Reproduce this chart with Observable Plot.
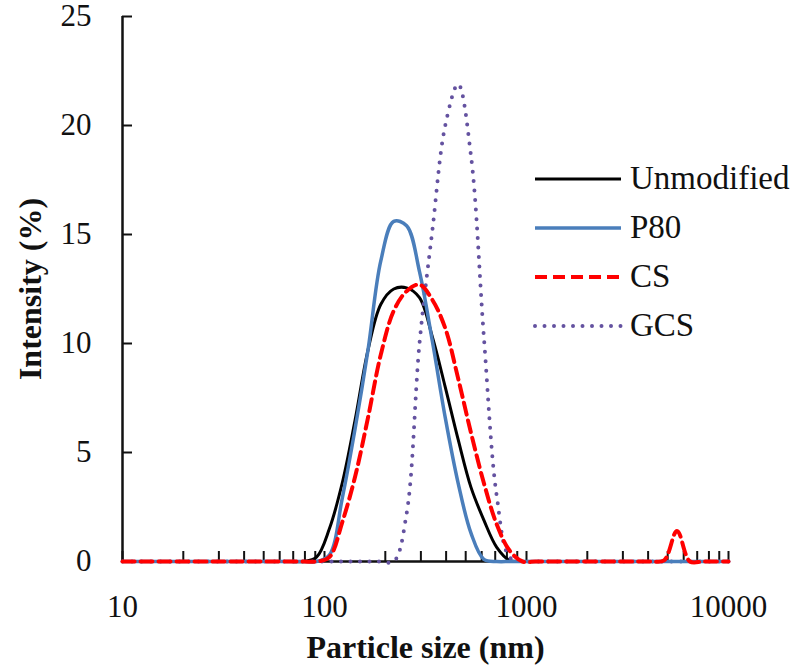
<!DOCTYPE html>
<html><head><meta charset="utf-8">
<script src="https://cdn.jsdelivr.net/npm/d3@7"></script>
<script src="https://cdn.jsdelivr.net/npm/@observablehq/plot@0.6"></script>
<style>
html,body{margin:0;padding:0;background:#fff;}
#wrap{position:relative;width:800px;height:672px;}
#legend{position:absolute;left:533px;top:154px;font-family:'Liberation Serif','Times New Roman',Times,'DejaVu Serif',serif;font-size:33px;color:#111;}
.row{display:flex;align-items:center;height:49px;}
.row svg{width:90px;height:20px;margin-right:7px;display:block;}
svg text{font-family:'Liberation Serif','Times New Roman',Times,'DejaVu Serif',serif;}
</style></head>
<body><div id="wrap"></div>
<script>
// Particle size bins (nm)
const sizes = [10, 11.7, 13.5, 15.7, 18.2, 21.0, 24.4, 28.2, 32.7, 37.8, 43.8, 50.7, 58.8, 68.1, 78.8, 91.3,
  105.7, 122.4, 141.8, 164.2, 190.1, 220.2, 255.0, 295.3, 342.0, 396.1, 458.7, 531.2, 615.1, 712.4, 825.0, 955.4,
  1106, 1281, 1484, 1718, 1990, 2305, 2669, 3091, 3580, 4145, 4801, 5560, 6439, 7456, 8635, 10000];

// Intensity (%) per bin
const unmodified = [0,0,0,0,0,0,0,0,0,0,0,0,0,0,0,0.2,
  1.5,3.6,6.5,9.7,11.8,12.5,12.55,12.1,10.3,8.0,5.6,3.4,1.9,0.65,0.05,0,
  0,0,0,0,0,0,0,0,0,0,0,0,0,0,0,0];
const p80 = [0,0,0,0,0,0,0,0,0,0,0,0,0,0,0,0,
  0.3,2.9,6.1,9.7,13.8,15.6,15.4,13.3,10.1,6.6,3.6,1.3,0.1,0,0,0,
  0,0,0,0,0,0,0,0,0,0,0,0,0,0,0,0];
const cs = [0,0,0,0,0,0,0,0,0,0,0,0,0,0,0,0,
  0.2,1.8,3.9,6.6,9.5,11.5,12.4,12.7,12.0,10.7,8.4,5.9,3.6,1.7,0.5,0,
  0,0,0,0,0,0,0,0,0,0,0.05,1.4,0,0,0,0];
const gcs = [0,0,0,0,0,0,0,0,0,0,0,0,0,0,0,0,
  0,0,0,0,0,0,2.2,10.0,15.2,20.0,21.9,18.6,10.3,3.0,0.2,0,
  0,0,0,0,0,0,0,0,0,0,0,0,0,0,0,0];

const seriesNames = ["Unmodified", "P80", "CS", "GCS"];
const xMajorTicks = [10, 100, 1000, 10000];
const xAllTicks = [10,20,30,40,50,60,70,80,90,100,200,300,400,500,600,700,800,900,1000,2000,3000,4000,5000,6000,7000,8000,9000,10000];
const yTicks = [0, 5, 10, 15, 20, 25];

const styles = {
  "Unmodified": {stroke: "#000000", strokeWidth: 3},
  "P80": {stroke: "#4a7ebb", strokeWidth: 3.5},
  "CS": {stroke: "#ff0000", strokeWidth: 4, strokeDasharray: "12,6"},
  "GCS": {stroke: "#6452a0", strokeWidth: 4, strokeDasharray: "0,9.5", strokeLinecap: "round"}
};
const valuesBy = {"Unmodified": unmodified, "P80": p80, "CS": cs, "GCS": gcs};
const table = name => sizes.map((s, i) => ({size: s, value: valuesBy[name][i], series: name}));

const drawOrder = ["Unmodified", "GCS", "P80", "CS"];
const font = "'Liberation Serif', 'Times New Roman', Times, 'DejaVu Serif', serif";

const chart = Plot.plot({
  width: 800, height: 672,
  marginLeft: 122, marginRight: 72, marginTop: 16, marginBottom: 111,
  style: {fontFamily: font, fontSize: "31px", color: "#111", background: "#fff", overflow: "visible"},
  x: {type: "log", domain: [10, 10000]},
  y: {domain: [0, 25]},
  marks: [
    Plot.axisX({ticks: xAllTicks, tickSize: -10, strokeWidth: 2, tickFormat: () => "", label: null}),
    Plot.axisX({ticks: xMajorTicks, tickSize: 0, tickPadding: 33, tickFormat: d => String(d), label: null}),
    Plot.axisY({ticks: yTicks, tickSize: -10, strokeWidth: 2, tickFormat: () => "", label: null}),
    Plot.axisY({ticks: yTicks, tickSize: 0, tickPadding: 31, tickFormat: d => String(d), label: null}),
    Plot.ruleX([10], {stroke: "#111", strokeWidth: 2.5}),
    Plot.ruleY([0], {stroke: "#111", strokeWidth: 2.5}),
    ...drawOrder.map(name => Plot.line(table(name), {x: "size", y: "value", curve: "catmull-rom", ...styles[name]})),
    Plot.text(["Particle size (nm)"], {frameAnchor: "bottom", lineAnchor: "middle", dy: 86, fontWeight: "bold", fontSize: 32, fill: "#111"}),
    Plot.text(["Intensity (%)"], {frameAnchor: "left", textAnchor: "middle", lineAnchor: "middle", dx: -92, rotate: -90, fontWeight: "bold", fontSize: 32, fill: "#111"})
  ]
});

const wrap = document.getElementById("wrap");
wrap.appendChild(chart);

// Legend
const legend = document.createElement("div");
legend.id = "legend";
for (const name of seriesNames) {
  const st = styles[name];
  const row = document.createElement("div");
  row.className = "row";
  row.innerHTML = `<svg viewBox="0 0 90 20"><line x1="2" y1="10" x2="88" y2="10" stroke="${st.stroke}" stroke-width="${st.strokeWidth}" ${st.strokeDasharray ? `stroke-dasharray="${st.strokeDasharray}"` : ""} ${st.strokeLinecap ? `stroke-linecap="${st.strokeLinecap}"` : ""}/></svg><span>${name}</span>`;
  legend.appendChild(row);
}
wrap.appendChild(legend);
</script>
</body></html>
